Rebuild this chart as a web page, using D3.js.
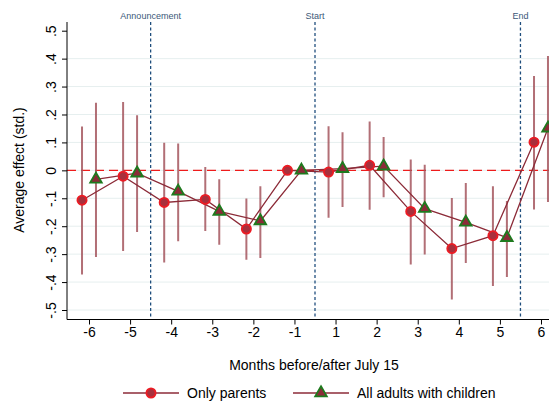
<!DOCTYPE html>
<html><head><meta charset="utf-8">
<script src="https://cdn.jsdelivr.net/npm/d3@7"></script>
<style>body{margin:0;background:#fff}svg{display:block;font-family:"Liberation Sans",Arial,sans-serif}</style>
</head><body><div id="c"></div>
<script>
const months = [-6,-5,-4,-3,-2,-1,1,2,3,4,5,6];
const parentsEst = [-0.107,-0.021,-0.115,-0.104,-0.210,0,-0.006,0.018,-0.147,-0.280,-0.234,0.101];
const parentsLo  = [-0.373,-0.289,-0.330,-0.217,-0.320,null,-0.170,-0.141,-0.337,-0.462,-0.414,-0.140];
const parentsHi  = [0.157,0.245,0.099,0.012,-0.101,null,0.158,0.175,0.039,-0.099,-0.057,0.338];
const adultsEst = [-0.032,-0.010,-0.075,-0.147,-0.181,0,0.006,0.015,-0.137,-0.186,-0.241,0.151];
const adultsLo  = [-0.310,-0.221,-0.254,-0.266,-0.314,null,-0.131,-0.096,-0.301,-0.332,-0.382,-0.113];
const adultsHi  = [0.242,0.197,0.096,-0.032,-0.057,null,0.136,0.119,0.020,-0.045,-0.110,0.409];
const yTicks = [-0.5,-0.4,-0.3,-0.2,-0.1,0,0.1,0.2,0.3,0.4,0.5];
const yTickLabels = ["-.5","-.4","-.3","-.2","-.1","0",".1",".2",".3",".4",".5"];
const events = [{pos:1.5,label:"Announcement"},{pos:5.5,label:"Start"},{pos:10.5,label:"End"}];
const seriesNames = ["Only parents","All adults with children"];

(function(){
const W=549,H=401;
const svg=d3.select("#c").append("svg").attr("width",W).attr("height",H);
const x=d3.scaleLinear().domain([0,11]).range([89,541]);
const y=d3.scaleLinear().domain([-0.5,0.5]).range([310,30.7]);
const off=0.17;
const pL=67,pB=319.5,pT=22,pR=W+5;

const grid="#e6efef", lineCol="#8c2b38", ciCol="#a5565e", blue="#1f4e7d";

svg.append("defs").append("clipPath").attr("id","pc").append("rect").attr("x",pL).attr("y",pT).attr("width",pR-pL).attr("height",pB-pT);

svg.append("g").selectAll("line").data(yTicks.filter(v=>v<0.45)).join("line")
 .attr("x1",pL).attr("x2",W).attr("y1",d=>y(d)).attr("y2",d=>y(d))
 .attr("stroke",grid).attr("stroke-width",1);

const g=svg.append("g").attr("clip-path","url(#pc)");

g.selectAll(".ev").data(events).join("line")
 .attr("x1",d=>x(d.pos)).attr("x2",d=>x(d.pos)).attr("y1",pT).attr("y2",pB)
 .attr("stroke",blue).attr("stroke-width",1.3).attr("stroke-dasharray","3,2.5");
svg.selectAll(".evl").data(events).join("text")
 .attr("x",d=>x(d.pos)).attr("y",19).attr("text-anchor","middle")
 .attr("font-size",9).attr("fill","#3b5878").text(d=>d.label);

g.append("line").attr("x1",pL).attr("x2",W).attr("y1",y(0)).attr("y2",y(0))
 .attr("stroke","#ee1c1c").attr("stroke-width",1.4).attr("stroke-dasharray","9,5");

const series=[
 {est:parentsEst,lo:parentsLo,hi:parentsHi,dx:-off,marker:"circle"},
 {est:adultsEst,lo:adultsLo,hi:adultsHi,dx:off,marker:"triangle"}
];
series.forEach(s=>{
  const pts=months.map((m,i)=>({i,est:s.est[i],lo:s.lo[i],hi:s.hi[i]}));
  g.append("g").selectAll("line").data(pts.filter(p=>p.lo!==null)).join("line")
   .attr("x1",p=>x(p.i+s.dx)).attr("x2",p=>x(p.i+s.dx))
   .attr("y1",p=>y(p.lo)).attr("y2",p=>y(p.hi))
   .attr("stroke",ciCol).attr("stroke-width",2).attr("stroke-opacity",0.85);
});
series.forEach(s=>{
  const pts=months.map((m,i)=>({i,est:s.est[i]}));
  g.append("path").datum(pts)
   .attr("d",d3.line().x(p=>x(p.i+s.dx)).y(p=>y(p.est)))
   .attr("fill","none").attr("stroke",lineCol).attr("stroke-width",1.3);
});
function drawMarker(sel,type){
  if(type==="circle"){
    sel.append("circle").attr("r",4.6).attr("fill","#a8303c").attr("stroke","#ec1c24").attr("stroke-width",1.8);
  } else {
    sel.append("path").attr("d",d3.symbol(d3.symbolTriangle,58)()).attr("fill","#8c2b38").attr("stroke","#1e7a1e").attr("stroke-width",1.8);
  }
}
series.forEach(s=>{
  const pts=months.map((m,i)=>({i,est:s.est[i]}));
  const gs=g.append("g").selectAll("g").data(pts).join("g")
   .attr("transform",p=>`translate(${x(p.i+s.dx)},${y(p.est)})`);
  drawMarker(gs,s.marker);
});

const axY=svg.append("g").attr("transform",`translate(${pL},0)`)
 .call(d3.axisLeft(y).tickValues(yTicks).tickFormat((d,i)=>yTickLabels[i]).tickSize(5).tickPadding(0));
axY.select(".domain").attr("d",`M0,${pT}V${pB}`).attr("stroke","#000");
axY.selectAll(".tick text").attr("transform","rotate(-90)").attr("x",0).attr("y",-11).attr("dy",0)
 .attr("text-anchor","middle").attr("font-size",14).attr("fill","#000").style("font-family","Liberation Sans, Arial");
const axX=svg.append("g").attr("transform",`translate(0,${pB})`)
 .call(d3.axisBottom(x).tickValues(d3.range(12)).tickFormat(i=>months[i]).tickSize(5).tickPadding(3));
axX.select(".domain").attr("d",`M${pL},0H${W}`).attr("stroke","#000");
axX.selectAll(".tick text").attr("font-size",14).attr("fill","#000").style("font-family","Liberation Sans, Arial");

svg.append("text").attr("transform","translate(24,170) rotate(-90)").attr("text-anchor","middle")
 .attr("font-size",14).text("Average effect (std.)");
svg.append("text").attr("x",314).attr("y",370).attr("text-anchor","middle")
 .attr("font-size",14).text("Months before/after July 15");

const leg=[{x0:123,name:seriesNames[0],marker:"circle"},{x0:293,name:seriesNames[1],marker:"triangle"}];
leg.forEach(l=>{
  const lg=svg.append("g");
  lg.append("line").attr("x1",l.x0).attr("x2",l.x0+56).attr("y1",393).attr("y2",393).attr("stroke",lineCol).attr("stroke-width",1.3);
  const mg=lg.append("g").attr("transform",`translate(${l.x0+28},393)`);
  drawMarker(mg,l.marker);
  lg.append("text").attr("x",l.x0+64).attr("y",397.5).attr("font-size",14).text(l.name);
});
})();
</script></body></html>
